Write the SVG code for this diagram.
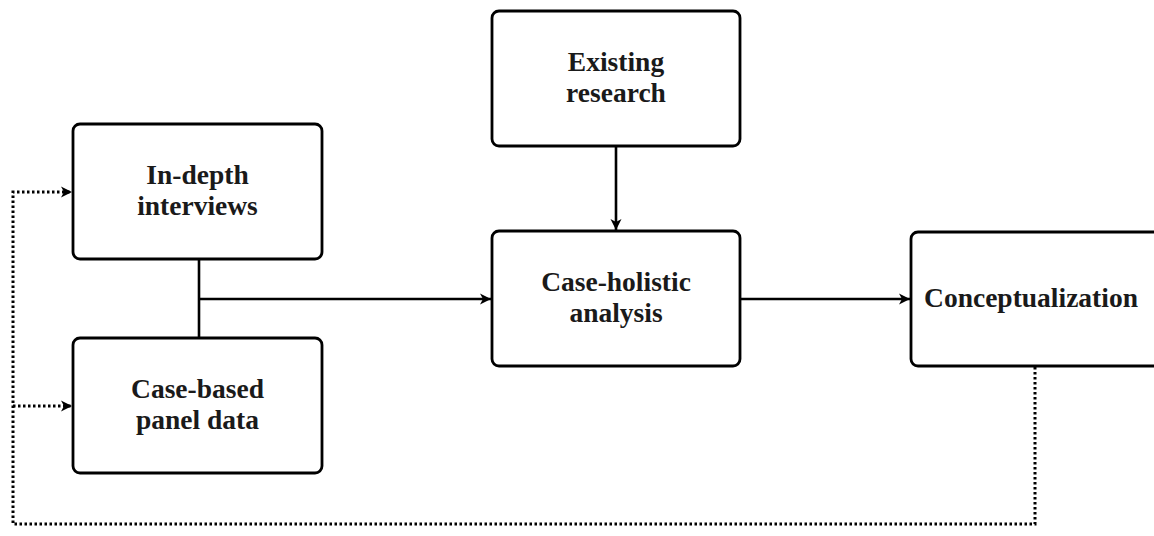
<svg xmlns="http://www.w3.org/2000/svg" width="1154" height="536" viewBox="0 0 1154 536">
<style>
.box{fill:#fff;stroke:#000;stroke-width:2.8}
.lbl{font-family:"Liberation Serif",serif;font-weight:bold;font-size:27.5px;fill:#1a1a1a;text-anchor:middle}
.ln{fill:none;stroke:#000;stroke-width:2.6}
.dot{fill:none;stroke:#000;stroke-width:3;stroke-dasharray:2.5 2.5}
</style>
<defs>
<marker id="ah" markerWidth="12" markerHeight="12" refX="11" refY="6" orient="auto" markerUnits="userSpaceOnUse">
<path d="M0,0.5 L11,6 L0,11.5 L3,6 Z" fill="#000"/>
</marker>
</defs>
<rect width="1154" height="536" fill="#fff"/>
<g id="connectors">
<path class="ln" d="M199,259 V338"/>
<path class="ln" d="M199,299 H491" marker-end="url(#ah)"/>
<path class="ln" d="M616,146 V230" marker-end="url(#ah)"/>
<path class="ln" d="M740,299 H910" marker-end="url(#ah)"/>
<path class="dot" d="M1035,367 V524 H13 V192 H72" marker-end="url(#ah)"/>
<path class="dot" d="M13,406 H72" marker-end="url(#ah)"/>
</g>
<g id="in-depth">
<rect class="box" x="73" y="124" width="249" height="135" rx="7"/>
<text class="lbl" x="197.5" y="184">In-depth</text>
<text class="lbl" x="197.5" y="215">interviews</text>
</g>
<g id="case-based">
<rect class="box" x="73" y="338" width="249" height="135" rx="7"/>
<text class="lbl" x="197.5" y="398">Case-based</text>
<text class="lbl" x="197.5" y="429">panel data</text>
</g>
<g id="existing">
<rect class="box" x="492" y="11" width="248" height="135" rx="7"/>
<text class="lbl" x="616" y="71">Existing</text>
<text class="lbl" x="616" y="102">research</text>
</g>
<g id="case-holistic">
<rect class="box" x="492" y="231" width="248" height="135" rx="7"/>
<text class="lbl" x="616" y="291">Case-holistic</text>
<text class="lbl" x="616" y="322">analysis</text>
</g>
<g id="conceptualization">
<rect class="box" x="911" y="232" width="250" height="134" rx="7"/>
<text class="lbl" x="1031" y="307">Conceptualization</text>
</g>
</svg>
